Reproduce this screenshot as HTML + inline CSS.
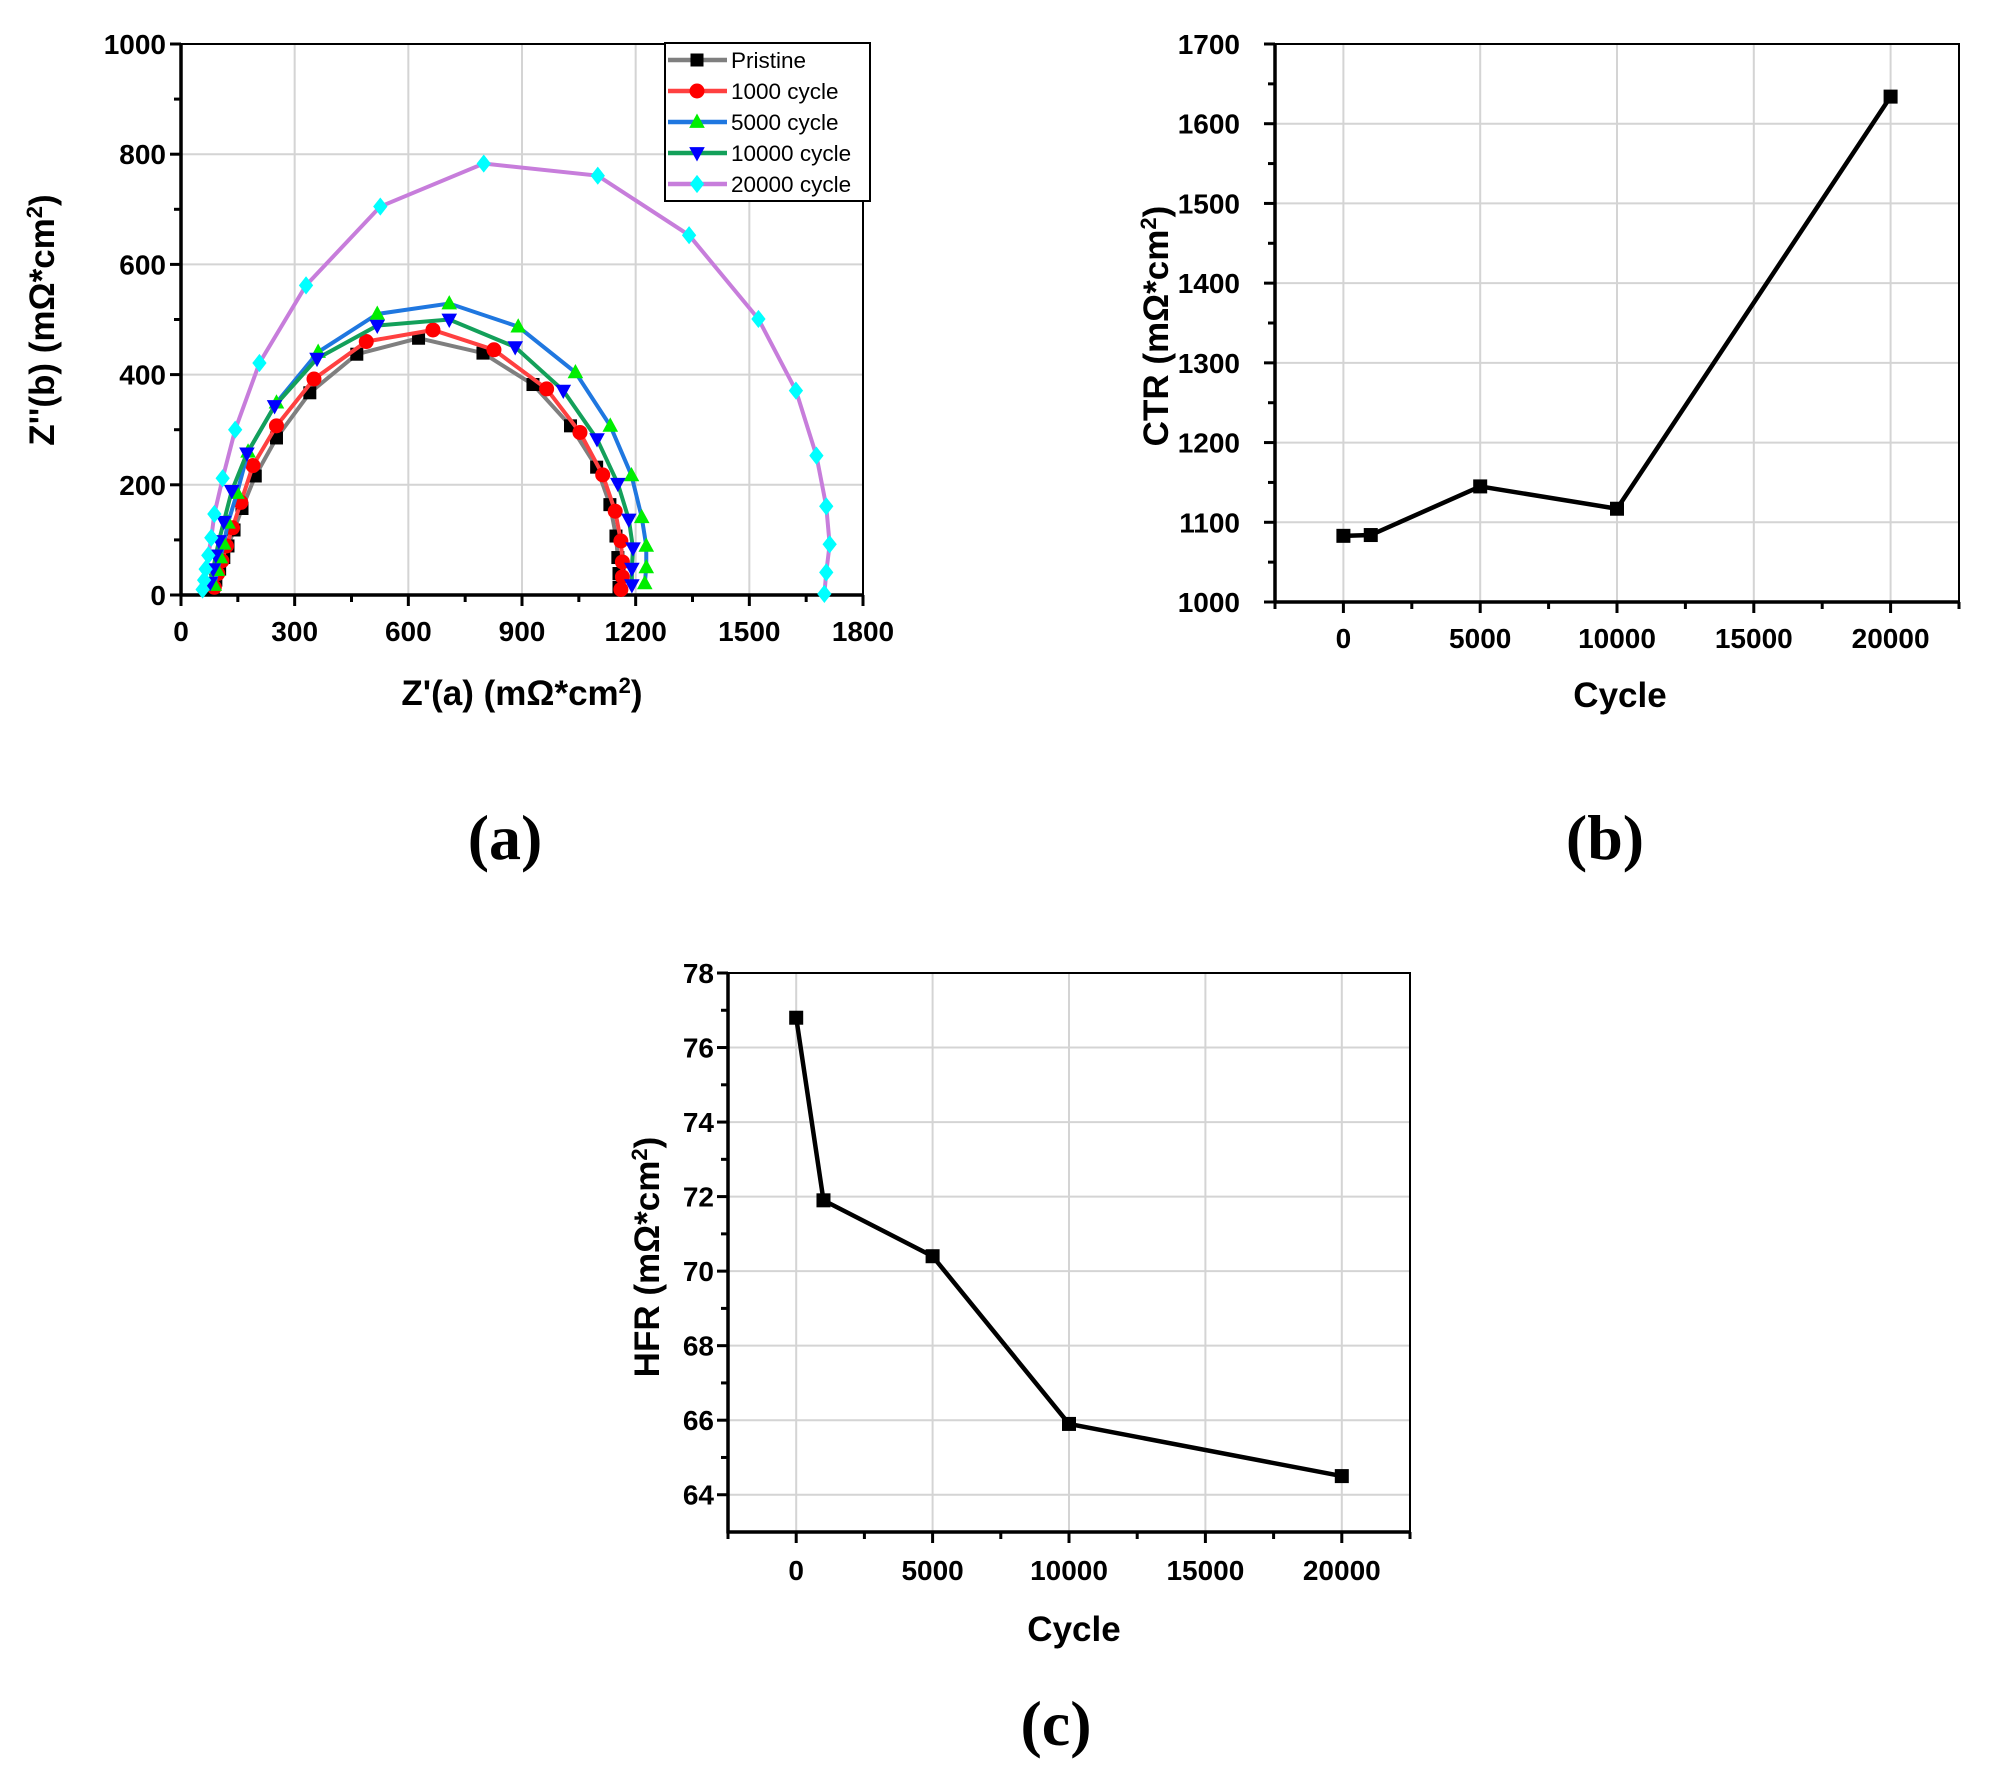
<!DOCTYPE html>
<html><head><meta charset="utf-8"><style>
body{margin:0;background:#fff}
svg{display:block;font-family:"Liberation Sans",Arial,sans-serif}
</style></head><body>
<svg id="fig" width="1995" height="1779" viewBox="0 0 1995 1779" xmlns="http://www.w3.org/2000/svg"></svg>
<script>
// ---- panel (a) data: Nyquist ----
const nyqNames = ["Pristine","1000 cycle","5000 cycle","10000 cycle","20000 cycle"];
const pristineX = [85,92,102,113,124,140,161,196,252,340,464,627,797,929,1028,1097,1132,1148,1153,1156,1156];
const pristineY = [10,27,47,68,89,118,157,216,285,367,437,466,439,382,307,232,164,107,68,39,14];
const c1000X = [88,97,108,120,136,158,190,252,351,489,665,826,965,1053,1113,1146,1161,1165,1165,1161];
const c1000Y = [14,39,62,89,122,168,235,307,392,460,481,445,374,295,218,152,98,60,33,10];
const c5000X = [88,96,104,113,124,148,177,252,362,518,708,890,1041,1133,1189,1216,1228,1228,1224];
const c5000Y = [18,45,68,93,131,185,260,349,441,510,529,487,404,307,217,141,89,50,21];
const c10000X = [77,85,92,100,113,134,174,247,359,518,708,882,1009,1098,1153,1182,1193,1190,1190];
const c10000Y = [22,47,72,98,133,189,257,343,429,489,500,450,371,283,202,137,85,48,18];
const c20000X = [57,61,65,72,80,88,110,143,207,330,526,799,1100,1341,1524,1623,1677,1703,1712,1703,1698];
const c20000Y = [10,27,47,72,104,147,212,300,421,562,705,783,761,653,501,371,253,161,92,41,2];
const nyqTicksX = [0,300,600,900,1200,1500,1800];
const nyqTicksY = [0,200,400,600,800,1000];
// ---- panel (b) data: CTR ----
const cycles = [0,1000,5000,10000,20000];
const ctrValues = [1083,1084,1145,1117,1634];
const ctrTicks = [1000,1100,1200,1300,1400,1500,1600,1700];
// ---- panel (c) data: HFR ----
const hfrValues = [76.8,71.9,70.4,65.9,64.5];
const hfrTicks = [64,66,68,70,72,74,76,78];
const cycleTicks = [0,5000,10000,15000,20000];

const NS="http://www.w3.org/2000/svg";
const svg=document.getElementById('fig');
function mk(tag,attrs,parent){const e=document.createElementNS(NS,tag);for(const k in attrs)e.setAttribute(k,attrs[k]);(parent||svg).appendChild(e);return e;}
function lin(d0,d1,p0,p1){return v=>p0+(v-d0)/(d1-d0)*(p1-p0);}

function axes(g,L,R,T,B,sx,sy,xt,yt,xminor,yminor,xlabY,ylabX){
  xt.forEach(v=>{const x=sx(v);
    const gl=mk('line',{x1:x,x2:x,y1:T,y2:B,stroke:'#d4d4d4','stroke-width':2},g);
    
    
    mk('line',{x1:x,x2:x,y1:B,y2:B+11,stroke:'#000','stroke-width':3},g);
    const t=mk('text',{x:x,y:xlabY,'text-anchor':'middle','font-size':28,'font-weight':'bold'},g);
    t.textContent=v;
    
    
  });
  xminor.forEach(v=>{const x=sx(v);mk('line',{x1:x,x2:x,y1:B,y2:B+7,stroke:'#000','stroke-width':3},g);});
  yt.forEach(v=>{const y=sy(v);
    const gl=mk('line',{x1:L,x2:R,y1:y,y2:y,stroke:'#d4d4d4','stroke-width':2},g);
    
    
    mk('line',{x1:L-11,x2:L,y1:y,y2:y,stroke:'#000','stroke-width':3},g);
    const t=mk('text',{x:ylabX,y:y+10,'text-anchor':'end','font-size':28,'font-weight':'bold'},g);
    t.textContent=v;
    
    
  });
  yminor.forEach(v=>{const y=sy(v);mk('line',{x1:L-7,x2:L,y1:y,y2:y,stroke:'#000','stroke-width':3},g);});
  mk('rect',{x:L,y:T,width:R-L,height:B-T,fill:'none',stroke:'#000','stroke-width':2},g);
  mk('line',{x1:L,x2:L,y1:T,y2:B+1.5,stroke:'#000','stroke-width':3.5},g);
  mk('line',{x1:L-1.5,x2:R,y1:B,y2:B,stroke:'#000','stroke-width':3.5},g);
}
function marker(g,type,x,y,color,s){
  let e;
  if(type==='sq') e=mk('rect',{x:x-s/2,y:y-s/2,width:s,height:s,fill:color},g);
  else if(type==='ci') e=mk('circle',{cx:x,cy:y,r:s/2+1,fill:color},g);
  else if(type==='tu') e=mk('polygon',{points:`${x},${y-s*0.65} ${x-s*0.6},${y+s*0.45} ${x+s*0.6},${y+s*0.45}`,fill:color},g);
  else if(type==='td') e=mk('polygon',{points:`${x},${y+s*0.65} ${x-s*0.6},${y-s*0.45} ${x+s*0.6},${y-s*0.45}`,fill:color},g);
  else e=mk('polygon',{points:`${x},${y-s*0.7} ${x+s*0.55},${y} ${x},${y+s*0.7} ${x-s*0.55},${y}`,fill:color},g);
  return e;
}
function title(x,y,html,rot,size,name){
  const t=mk('text',{x:x,y:y,'text-anchor':'middle','font-size':size||34,'font-weight':'bold',transform:rot?`rotate(-90 ${x} ${y})`:''});
  t.innerHTML=html;
  
  
}
const sup='<tspan baseline-shift="super" font-size="22">2</tspan>';

// ===== Panel (a) =====
{
  const g=mk('g',{});
  
  
  const L=181,R=863,T=44,B=595;
  const sx=lin(0,1800,L,R), sy=lin(0,1000,B,T);
  axes(g,L,R,T,B,sx,sy,nyqTicksX,nyqTicksY,[150,450,750,1050,1350,1650],[100,300,500,700,900],641,166);
  const series=[[pristineX,pristineY,'#7f7f7f','#000','sq'],[c1000X,c1000Y,'#ff4040','#ff0000','ci'],[c5000X,c5000Y,'#1f77e0','#00ee00','tu'],[c10000X,c10000Y,'#13a05a','#0000ff','td'],[c20000X,c20000Y,'#c77ddb','#00ffff','di']];
  const keys=['pristine','1000-cycle','5000-cycle','10000-cycle','20000-cycle'];
  series.forEach((s,i)=>{
    const pts=s[0].map((v,j)=>sx(v)+','+sy(s[1][j])).join(' ');
    const pl=mk('polyline',{points:pts,fill:'none',stroke:s[2],'stroke-width':4},g);
    
    
    s[0].forEach((v,j)=>{const m=marker(g,s[4],sx(v),sy(s[1][j]),s[3],13);
      
      });
  });
  // legend
  const lg=mk('g',{},g);
  
  
  mk('rect',{x:665,y:43,width:205,height:158,fill:'#fff',stroke:'#000','stroke-width':2},lg);
  series.forEach((s,i)=>{const y=60+i*31;
    mk('line',{x1:668,x2:727,y1:y,y2:y,stroke:s[2],'stroke-width':4.5},lg);
    marker(lg,s[4],697,y,s[3],13);
    const t=mk('text',{x:731,y:y+8,'font-size':22.5},lg);t.textContent=nyqNames[i];
    
    
  });
  title(522,705,"Z'(a) (mΩ*cm"+sup+")",false,35,'x-axis-title-a');
  title(54,320,"Z''(b) (mΩ*cm"+sup+")",true,35,'y-axis-title-a');
}
// ===== Panel (b) =====
{
  const g=mk('g',{});
  
  
  const L=1275,R=1959,T=44,B=602;
  const sx=lin(-2500,22500,L,R), sy=lin(1000,1700,B,T);
  axes(g,L,R,T,B,sx,sy,cycleTicks,ctrTicks,[-2500,2500,7500,12500,17500,22500],[1050,1150,1250,1350,1450,1550,1650],648,1240);
  const pts=cycles.map((c,i)=>sx(c)+','+sy(ctrValues[i])).join(' ');
  const pl=mk('polyline',{points:pts,fill:'none',stroke:'#000','stroke-width':4.5},g);
  
  
  cycles.forEach((c,i)=>{const m=marker(g,'sq',sx(c),sy(ctrValues[i]),'#000',14);
    
    });
  title(1620,707,"Cycle",false,35,'x-axis-title-b');
  title(1168,326,"CTR (mΩ*cm"+sup+")",true,35,'y-axis-title-b');
}
// ===== Panel (c) =====
{
  const g=mk('g',{});
  
  
  const L=728,R=1410,T=973,B=1532;
  const sx=lin(-2500,22500,L,R), sy=lin(63,78,B,T);
  axes(g,L,R,T,B,sx,sy,cycleTicks,hfrTicks,[-2500,2500,7500,12500,17500,22500],[65,67,69,71,73,75,77],1580,714);
  const pts=cycles.map((c,i)=>sx(c)+','+sy(hfrValues[i])).join(' ');
  const pl=mk('polyline',{points:pts,fill:'none',stroke:'#000','stroke-width':4.5},g);
  
  
  cycles.forEach((c,i)=>{const m=marker(g,'sq',sx(c),sy(hfrValues[i]),'#000',14);
    
    });
  title(1074,1641,"Cycle",false,35,'x-axis-title-c');
  title(659,1257,"HFR (mΩ*cm"+sup+")",true,35,'y-axis-title-c');
}
// panel labels
[['(a)',505,859,'panel-label-a'],['(b)',1605,859,'panel-label-b'],['(c)',1056,1745,'panel-label-c']].forEach(p=>{
  const t=mk('text',{x:p[1],y:p[2],'text-anchor':'middle','font-size':64,'font-family':'"Liberation Serif",serif','font-weight':'bold'});
  t.textContent=p[0];
  
  
});
</script>
</body></html>
